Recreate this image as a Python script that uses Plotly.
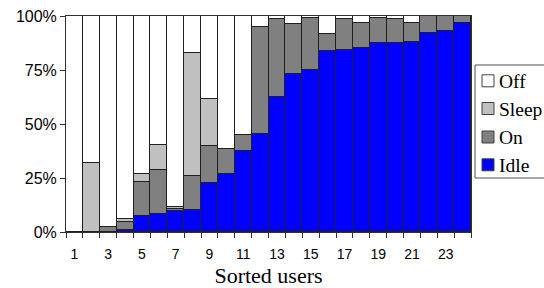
import plotly.graph_objects as go

users = list(range(1, 25))
idle  = [0, 0, 0, 1.1, 7.4, 8.2, 9.7, 10.4, 22.7, 26.9, 37.7, 45.4, 62.5, 73.0, 75.0, 83.8, 84.1, 85.4, 87.5, 87.7, 88.1, 92.0, 92.9, 96.8]
on    = [0, 0, 2.3, 3.7, 15.7, 20.7, 1.1, 15.7, 17.0, 11.4, 7.1, 49.5, 36.3, 23.2, 24.2, 8.0, 14.7, 11.4, 11.6, 10.9, 8.5, 8.0, 7.1, 3.2]
sleep = [0, 32.1, 0, 1.2, 3.9, 11.6, 1.0, 57.0, 22.1, 0, 0, 0, 0, 0, 0, 0, 0, 0, 0, 0, 0, 0, 0, 0]
off   = [100 - a - b - c for a, b, c in zip(idle, on, sleep)]
x_tick_vals = [1, 3, 5, 7, 9, 11, 13, 15, 17, 19, 21, 23]
y_tick_vals = [0, 25, 50, 75, 100]
y_tick_text = ["0%", "25%", "50%", "75%", "100%"]

series = [("Idle", idle, "#0000ff"), ("On", on, "#808080"),
          ("Sleep", sleep, "#c0c0c0"), ("Off", off, "#ffffff")]

SERIF = "Times New Roman, Liberation Serif, serif"
SANS = "Arial, Liberation Sans, Helvetica, sans-serif"

W, H = 544, 288
ML, MR, MT, MB = 66, 73, 16, 56
PW, PH = W - ML - MR, H - MT - MB

def px_x(px):
    return (px - ML) / PW

def px_y(py):
    return (H - MB - py) / PH

fig = go.Figure()
for name, vals, col in series:
    fig.add_trace(go.Bar(x=users, y=vals, name=name, width=1,
                         marker=dict(color=col, line=dict(color="#202020", width=1))))

# legend drawn as box + swatches + text (entries follow the trace list, top = last)
shapes = [dict(type="rect", xref="paper", yref="paper",
               x0=px_x(475), x1=px_x(560), y0=px_y(178), y1=px_y(65),
               line=dict(color="#505050", width=1), fillcolor="white", layer="above")]
annotations = []
legend_centers = {"Off": 80.8, "Sleep": 108.5, "On": 137.0, "Idle": 164.8}
for name, vals, col in series:
    cy = legend_centers[name]
    shapes.append(dict(type="rect", xref="paper", yref="paper",
                       x0=px_x(482), x1=px_x(494), y0=px_y(cy + 6), y1=px_y(cy - 6),
                       line=dict(color="#404040", width=1), fillcolor=col, layer="above"))
    annotations.append(dict(text=name, xref="paper", yref="paper", x=px_x(497), y=px_y(cy + 0.5),
                            xanchor="left", yanchor="middle", showarrow=False,
                            font=dict(family=SERIF, size=19.5, color="black")))

fig.update_layout(
    barmode="stack", bargap=0,
    width=W, height=H,
    margin=dict(l=ML, r=MR, t=MT, b=MB, autoexpand=False),
    plot_bgcolor="white", paper_bgcolor="white",
    showlegend=False,
    shapes=shapes, annotations=annotations,
    xaxis=dict(range=[0.5, 24.5], tickmode="array", tickvals=x_tick_vals,
               ticks="", showline=True, linecolor="#303030", mirror=True,
               showgrid=False, zeroline=False,
               tickfont=dict(family=SANS, size=14, color="black"),
               ticklabelstandoff=9,
               minor=dict(ticks="outside", tick0=0.5, dtick=1, ticklen=5, tickcolor="#303030", showgrid=False),
               title=dict(text="Sorted users", standoff=10,
                          font=dict(family=SERIF, size=22, color="black"))),
    yaxis=dict(range=[0, 100], tickmode="array", tickvals=y_tick_vals, ticktext=y_tick_text,
               ticks="outside", ticklen=5, tickcolor="#303030",
               showline=True, linecolor="#303030", mirror=True,
               showgrid=False, zeroline=False,
               tickfont=dict(family=SANS, size=16, color="black")),
)

fig.write_html("out.html", config={"displayModeBar": False},
               post_script="document.body.style.margin='0';")
